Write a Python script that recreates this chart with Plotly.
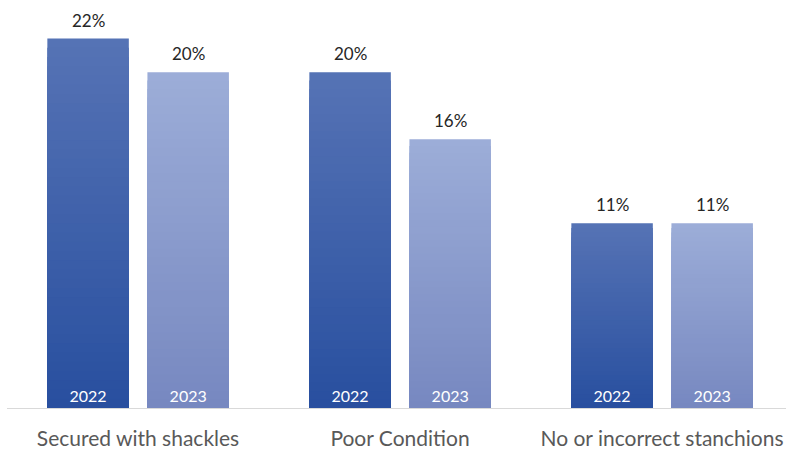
import plotly.graph_objects as go

categories = ["Secured with shackles", "Poor Condition", "No or incorrect stanchions"]
years = ["2022", "2023"]
values_2022 = [22, 20, 11]
values_2023 = [20, 16, 11]

FONT = "Lato"
N_SEG = 40
BAR_W = 0.311
series = [
    dict(year=years[0], values=values_2022, offset=-0.346,
         bottom=(40, 79, 159), top=(86, 115, 181)),
    dict(year=years[1], values=values_2023, offset=0.036,
         bottom=(119, 136, 192), top=(156, 173, 216)),
]

xs = list(range(len(categories)))
fig = go.Figure()


def mix(c0, c1, t):
    return "rgb({},{},{})".format(*[round(a + (b - a) * t) for a, b in zip(c0, c1)])


for s in series:
    vals = s["values"]
    # layered from tallest (top colour) to shortest (bottom colour) -> vertical gradient without seams
    for k in reversed(range(N_SEG)):
        fig.add_trace(go.Bar(
            x=xs, y=[v * (k + 1) / N_SEG for v in vals],
            offset=s["offset"], width=BAR_W,
            marker=dict(color=mix(s["bottom"], s["top"], (k + 0.5) / N_SEG), line=dict(width=0)),
            hoverinfo="skip", showlegend=False,
        ))
    fig.add_trace(go.Bar(
        x=xs, y=vals, offset=s["offset"], width=BAR_W, name=s["year"],
        marker=dict(color="rgba(0,0,0,0)", line=dict(width=0)),
        text=[s["year"]] * len(vals), textposition="inside", insidetextanchor="start",
        textangle=0, textfont=dict(color="white", size=16, family=FONT),
        customdata=categories,
        hovertemplate="%{customdata}<br>" + s["year"] + ": %{y}%<extra></extra>",
        showlegend=False,
    ))
    for i, v in enumerate(vals):
        fig.add_annotation(
            x=i + s["offset"] + BAR_W / 2, y=v, xref="x", yref="y",
            text=f"{v}%", showarrow=False, yanchor="bottom", yshift=6,
            font=dict(size=17, color="#262626", family=FONT),
        )

fig.update_layout(
    width=786, height=450,
    margin=dict(l=7, r=0, t=0, b=40),
    barmode="overlay",
    plot_bgcolor="white", paper_bgcolor="white",
    font=dict(family=FONT),
)
fig.update_xaxes(
    range=[-0.5, -0.5 + 779 / 262],
    tickvals=xs, ticktext=categories,
    tickfont=dict(size=21, color="#595959", family=FONT),
    showline=True, linecolor="#d9d9d9", linewidth=1,
    showgrid=False, zeroline=False, ticks="", ticklabelstandoff=12,
)
fig.update_yaxes(range=[0, 24.3], visible=False, showgrid=False, zeroline=False)

fig.write_html("out.html", config={"displayModeBar": False},
               post_script="document.body.style.margin='0';")
